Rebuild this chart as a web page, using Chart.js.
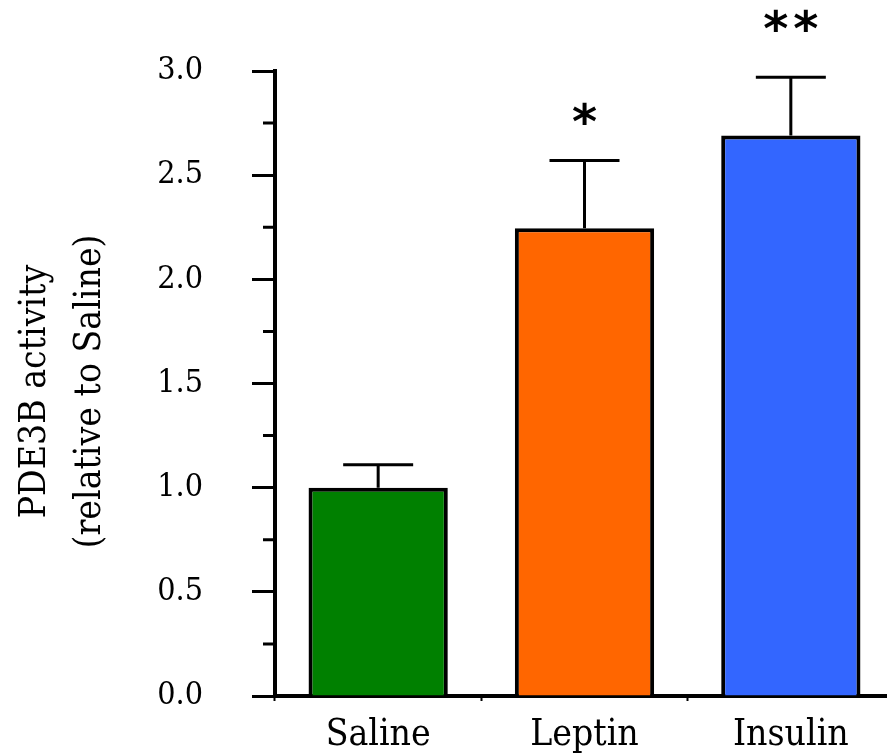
<!DOCTYPE html>
<html>
<head>
<meta charset="utf-8">
<script src="https://cdn.jsdelivr.net/npm/chart.js@4.4.1/dist/chart.umd.min.js"></script>
<style>
  html, body { margin: 0; padding: 0; background: #fff; overflow: hidden; }
  canvas { display: block; }
</style>
</head>
<body>
<canvas id="chrt" width="894" height="756"></canvas>
<script>
const CATEGORIES = ["Saline", "Leptin", "Insulin"];
const MEANS = [1.0, 2.245, 2.69];
const ERRORS = [0.11, 0.325, 0.28];
const STARS = ["", "*", "**"];
const BAR_COLORS = ["#008000", "#ff6600", "#3366ff"];
const Y_TICK_STEP = 0.5;
const Y_MINOR_STEP = 0.25;
const Y_TITLE = ["PDE3B activity", "(relative to Saline)"];

const SERIF = "'DejaVu Serif Condensed', 'DejaVu Serif', serif";

// error bars, significance stars, minor y ticks and the y title
const extras = {
  id: "extras",
  afterDatasetsDraw(chart) {
    const ctx = chart.ctx;
    const y = chart.scales.y;
    const meta = chart.getDatasetMeta(0);
    ctx.save();
    ctx.strokeStyle = "#000";
    ctx.fillStyle = "#000";
    ctx.lineWidth = 3;
    ctx.font = "bold 48px 'DejaVu Sans', sans-serif";
    ctx.textAlign = "center";
    ctx.textBaseline = "alphabetic";
    const m = ctx.measureText("*");
    const mid = (m.actualBoundingBoxAscent - m.actualBoundingBoxDescent) / 2;
    meta.data.forEach((bar, i) => {
      const top = y.getPixelForValue(MEANS[i] + ERRORS[i]);
      ctx.beginPath();
      ctx.moveTo(bar.x, bar.y);
      ctx.lineTo(bar.x, top);
      ctx.moveTo(bar.x - 35, top);
      ctx.lineTo(bar.x + 35, top);
      ctx.stroke();
      const n = STARS[i].length;
      for (let k = 0; k < n; k++) {
        const cx = bar.x + (k - (n - 1) / 2) * 30;
        ctx.fillText("*", cx, bar.y - 115 + mid);
      }
    });
    ctx.beginPath();
    for (let v = Y_MINOR_STEP; v < y.max; v += Y_TICK_STEP) {
      const py = y.getPixelForValue(v);
      ctx.moveTo(y.right - 12, py);
      ctx.lineTo(y.right, py);
    }
    ctx.stroke();

    // y title, two lines, reading bottom to top
    ctx.translate(0, (chart.chartArea.top + chart.chartArea.bottom) / 2 + 8);
    ctx.rotate(-Math.PI / 2);
    ctx.font = "37px " + SERIF;
    ctx.fillText(Y_TITLE[0], 0, 45);
    ctx.fillText(Y_TITLE[1], 0, 100);
    ctx.restore();
  },
};

new Chart(document.getElementById("chrt"), {
  type: "bar",
  data: {
    labels: CATEGORIES,
    datasets: [{
      data: MEANS,
      backgroundColor: BAR_COLORS,
      borderColor: "#000",
      borderWidth: 4,
      categoryPercentage: 1,
      barPercentage: 0.675,
    }],
  },
  options: {
    responsive: false,
    animation: false,
    layout: { padding: { top: 71, right: 0, left: 0, bottom: 0 } },
    plugins: {
      legend: { display: false },
      tooltip: { enabled: false },
    },
    scales: {
      x: {
        z: 1,
        grid: { offset: true, drawOnChartArea: false, tickLength: 5, tickWidth: 2, tickColor: "#000" },
        border: { color: "#000", width: 4 },
        ticks: { color: "#000", padding: 12, maxRotation: 0, font: { family: SERIF, size: 37 } },
        afterFit: (s) => { s.height = 60; },
      },
      y: {
        z: 1,
        min: 0,
        max: 3,
        ticks: {
          stepSize: Y_TICK_STEP,
          padding: 49,
          color: "#000",
          font: { family: SERIF, size: 32 },
          callback: (v) => v.toFixed(1),
        },
        grid: { drawOnChartArea: false, tickLength: 23, tickWidth: 3, tickColor: "#000" },
        border: { color: "#000", width: 4 },
        afterFit: (s) => {
          s.width = 275;
          s.paddingTop = 0;
          s.paddingBottom = 0;
        },
      },
    },
  },
  plugins: [extras],
});
</script>
</body>
</html>
